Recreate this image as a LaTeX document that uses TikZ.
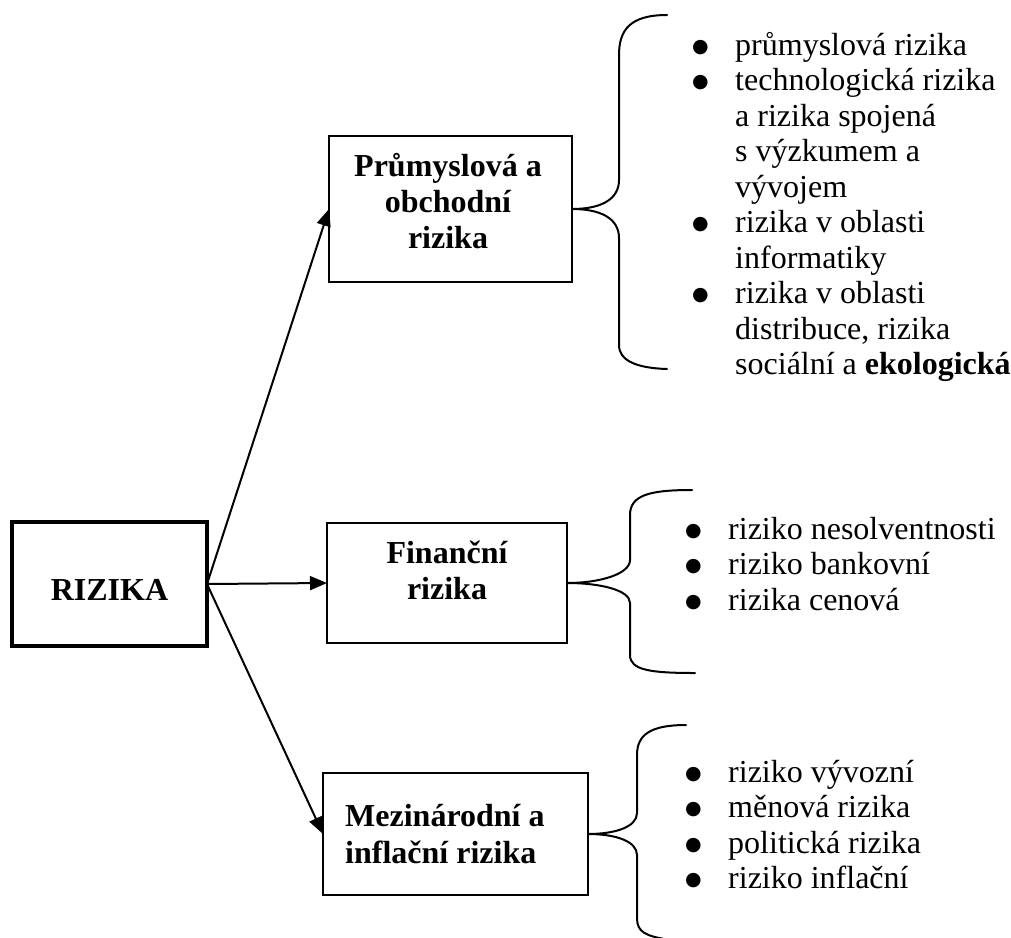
\documentclass[tikz,border=0pt]{standalone}
\usepackage{fontspec}
\setmainfont{Liberation Serif}
\newfontfamily\symfont{DejaVu Sans}
\usetikzlibrary{arrows.meta}

% list bullet: a round dot set in a fixed-width slot
\newcommand{\bul}{\makebox[48pt][l]{\hspace*{5pt}\raisebox{3pt}{\symfont\fontsize{19}{20}\selectfont ●}}}

\begin{document}
\begin{tikzpicture}[x=1pt,y=-1pt,
  box/.style={draw, line width=2pt, inner sep=0pt, outer sep=0pt},
  mainbox/.style={draw, line width=4pt, inner sep=0pt, outer sep=0pt},
  boxlabel/.style={inner sep=0pt, anchor=base, font=\fontsize{32}{36}\selectfont\bfseries},
  itemlist/.style={inner sep=0pt, anchor=base west, font=\fontsize{32}{35.5}\selectfont},
  link/.style={line width=2pt, -{Triangle[length=17pt,width=14pt]}},
  brace/.style={line width=2pt, line cap=round}]

\useasboundingbox (0,0) rectangle (1011,937);
\clip (0,0) rectangle (1011,937);

% boxes
\node[mainbox, minimum width=195pt, minimum height=124pt] (rizika) at (109.5,584) {};
\node[box, minimum width=243pt, minimum height=146pt] (prum) at (450.5,209) {};
\node[box, minimum width=240pt, minimum height=120pt] (fin) at (447,583) {};
\node[box, minimum width=265pt, minimum height=122pt] (mez) at (455.5,834) {};

% box labels
\node[boxlabel] (rizikaT) at (109.5,600) {RIZIKA};
\node[boxlabel] (prumT) at (448,176) {\begin{tabular}[t]{@{}c@{}}Průmyslová a\\ obchodní\\ rizika\end{tabular}};
\node[boxlabel] (finT) at (447,563) {\begin{tabular}[t]{@{}c@{}}Finanční\\ rizika\end{tabular}};
\node[boxlabel, anchor=base west] (mezT) at (345,826) {\fontsize{32}{37}\selectfont\begin{tabular}[t]{@{}l@{}}Mezinárodní a\\ inflační rizika\end{tabular}};

% connectors
\draw[link] (rizika.east) -- (prum.west);
\draw[link] (rizika.east) -- (fin.west);
\draw[link] (rizika.east) -- (mez.west);

% curly braces
\draw[brace] (667,15) .. controls (630,15) and (619,30) .. (619,55) -- (619,180)
  .. controls (619,200) and (600,209) .. (prum.east)
  .. controls (600,209) and (619,218) .. (619,238) -- (619,345)
  .. controls (619,360) and (635,368) .. (667,369);
\draw[brace] (692,490) .. controls (650,490) and (630,495) .. (630,515) -- (630,560)
  .. controls (630,574) and (600,583) .. (fin.east)
  .. controls (600,583) and (630,590) .. (630,603) -- (630,655)
  .. controls (630,670) and (650,673) .. (695,673);
\draw[brace] (686,725) .. controls (650,725) and (637,735) .. (637,755) -- (637,813)
  .. controls (637,827) and (615,834) .. (mez.east)
  .. controls (615,834) and (637,841) .. (637,855) -- (637,918)
  .. controls (637,932) and (645,936) .. (670,940);

% bullet lists
\node[itemlist] (list1) at (687,55) {\begin{tabular}[t]{@{}l@{}l@{}}
\bul & průmyslová rizika\\
\bul & technologická rizika\\
 & a rizika spojená\\
 & s výzkumem a\\
 & vývojem\\
\bul & rizika v oblasti\\
 & informatiky\\
\bul & rizika v oblasti\\
 & distribuce, rizika\\
 & sociální a \textbf{ekologická}
\end{tabular}};
\node[itemlist] (list2) at (680,539) {\begin{tabular}[t]{@{}l@{}l@{}}
\bul & riziko nesolventnosti\\
\bul & riziko bankovní\\
\bul & rizika cenová
\end{tabular}};
\node[itemlist] (list3) at (680,782) {\begin{tabular}[t]{@{}l@{}l@{}}
\bul & riziko vývozní\\
\bul & měnová rizika\\
\bul & politická rizika\\
\bul & riziko inflační
\end{tabular}};
\end{tikzpicture}
\end{document}
